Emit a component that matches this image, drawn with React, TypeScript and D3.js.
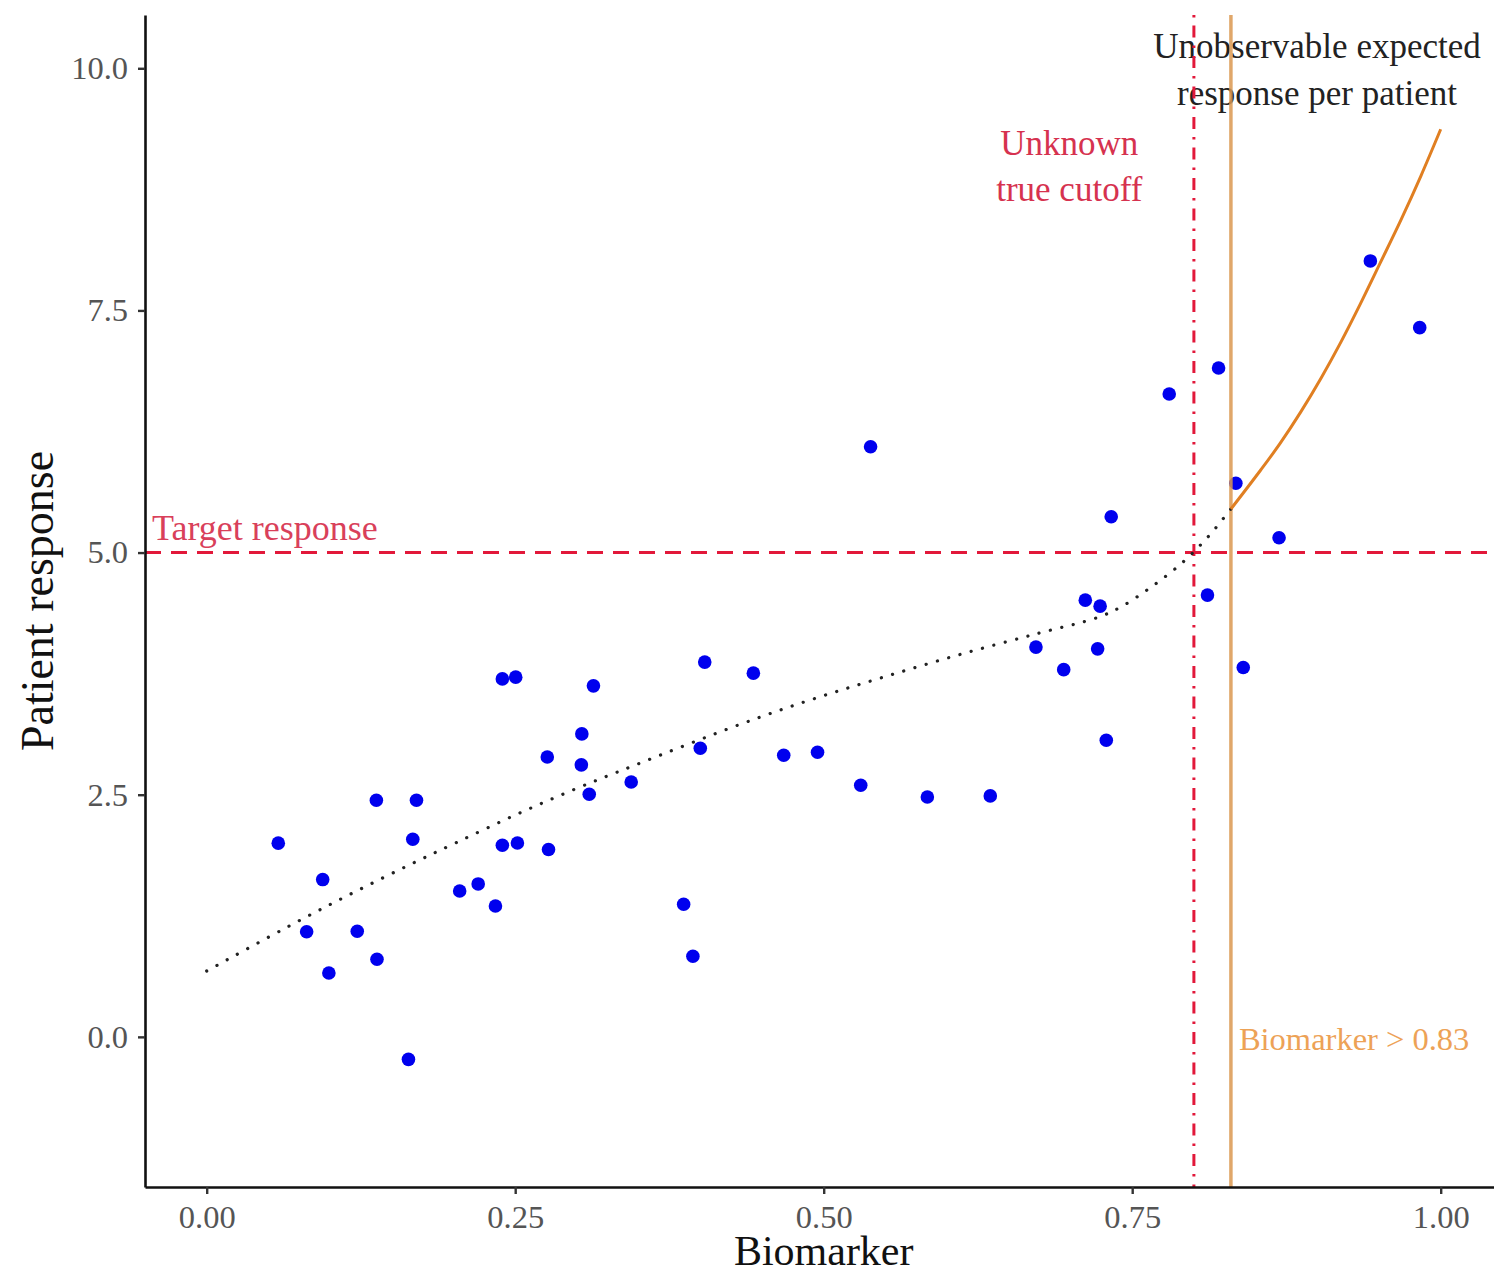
import React, { useEffect, useRef } from 'react';
import * as d3 from 'd3';

// Observed patients (biomarker, response)
const biomarker = [
  0.058, 0.081, 0.094, 0.099, 0.122, 0.1375, 0.138, 0.1635, 0.167, 0.170,
  0.205, 0.220, 0.234, 0.2396, 0.2396, 0.2504, 0.2518, 0.276, 0.277, 0.304,
  0.3036, 0.310, 0.3134, 0.344, 0.3865, 0.394, 0.400, 0.4036, 0.443, 0.4676,
  0.495, 0.530, 0.538, 0.584, 0.635, 0.672, 0.6945, 0.712, 0.722, 0.724,
  0.729, 0.733, 0.780, 0.811, 0.820, 0.834, 0.840, 0.869, 0.943, 0.983,
];
const response = [
  2.0, 1.085, 1.624, 0.659, 1.09, 2.443, 0.801, -0.232, 2.04, 2.443,
  1.506, 1.579, 1.351, 1.978, 3.696, 3.714, 2.002, 2.89, 1.934, 3.128,
  2.808, 2.505, 3.624, 2.632, 1.369, 0.832, 2.98, 3.869, 3.755, 2.908,
  2.939, 2.598, 6.093, 2.477, 2.488, 4.024, 3.791, 4.509, 4.006, 4.447,
  3.063, 5.37, 6.637, 4.561, 6.906, 5.715, 3.814, 5.153, 8.011, 7.322,
];

// Expected response below the chosen cutoff (dotted)
const trendX = [0, 0.0735, 0.119, 0.165, 0.203, 0.25, 0.297, 0.346, 0.433, 0.492, 0.55, 0.611, 0.672, 0.722, 0.741, 0.766, 0.791, 0.812, 0.83];
const trendY = [0.68, 1.19, 1.49, 1.78, 2.01, 2.29, 2.55, 2.8, 3.23, 3.49, 3.72, 3.95, 4.16, 4.33, 4.44, 4.65, 4.9, 5.17, 5.45];

// Expected response above the chosen cutoff (orange)
const upperX = [0.83, 0.854, 0.87, 0.8865, 0.903, 0.919, 0.935, 0.951, 0.968, 0.984, 1.0];
const upperY = [5.45, 5.85, 6.13, 6.45, 6.8, 7.17, 7.57, 7.99, 8.44, 8.89, 9.37];

const xTicks = [0, 0.25, 0.5, 0.75, 1];
const yTicks = [0, 2.5, 5, 7.5, 10];

const targetResponse = 5;
const trueCutoff = 0.8;
const chosenCutoff = 0.83;

const FONT = '"Liberation Serif", "DejaVu Serif", serif';

export default function App() {
  const ref = useRef<SVGSVGElement>(null);

  useEffect(() => {
    const width = 1494;
    const height = 1274;
    const left = 145;
    const top = 15;
    const bottom = 1187;

    const x = d3.scaleLinear().domain([-0.05, 1.05]).range([left, left + 1.1 * 1234]);
    const y = d3.scaleLinear().domain([-1.55, 10.55]).range([bottom, top]);

    const svg = d3.select(ref.current);
    svg.selectAll('*').remove();
    svg.attr('width', width).attr('height', height);

    svg.append('rect').attr('width', width).attr('height', height).attr('fill', '#fff');

    svg
      .append('defs')
      .append('clipPath')
      .attr('id', 'panel')
      .append('rect')
      .attr('x', left)
      .attr('y', top)
      .attr('width', x.range()[1] - left)
      .attr('height', bottom - top);

    const panel = svg.append('g').attr('clip-path', 'url(#panel)');

    // Annotations
    const red = '#e2183a';
    panel
      .append('text')
      .attr('x', 152)
      .attr('y', 540)
      .attr('fill', '#d9405a')
      .style('font-family', FONT)
      .style('font-size', '36px')
      .text('Target response');

    const cutLab = panel
      .append('text')
      .attr('text-anchor', 'middle')
      .attr('fill', '#d6324f')
      .style('font-family', FONT)
      .style('font-size', '35px');
    cutLab.append('tspan').attr('x', x(0.699)).attr('y', 155).text('Unknown');
    cutLab.append('tspan').attr('x', x(0.699)).attr('y', 201).text('true cutoff');

    const unobs = panel
      .append('text')
      .attr('text-anchor', 'middle')
      .attr('fill', '#222')
      .style('font-family', FONT)
      .style('font-size', '35px');
    unobs.append('tspan').attr('x', 1317).attr('y', 58).text('Unobservable expected');
    unobs.append('tspan').attr('x', 1317).attr('y', 105).text('response per patient');

    panel
      .append('text')
      .attr('x', x(chosenCutoff) + 8)
      .attr('y', 1050)
      .attr('fill', '#eda256')
      .style('font-family', FONT)
      .style('font-size', '32.5px')
      .text('Biomarker > 0.83');

    // Points
    panel
      .append('g')
      .selectAll('circle')
      .data(biomarker)
      .enter()
      .append('circle')
      .attr('cx', d => x(d))
      .attr('cy', (d, i) => y(response[i]))
      .attr('r', 6.8)
      .attr('fill', '#0000ee');

    // Reference lines
    panel
      .append('line')
      .attr('x1', left)
      .attr('x2', x.range()[1])
      .attr('y1', y(targetResponse))
      .attr('y2', y(targetResponse))
      .attr('stroke', red)
      .attr('stroke-width', 3)
      .attr('stroke-dasharray', '16 10');

    panel
      .append('line')
      .attr('x1', x(trueCutoff))
      .attr('x2', x(trueCutoff))
      .attr('y1', top)
      .attr('y2', bottom)
      .attr('stroke', red)
      .attr('stroke-width', 3)
      .attr('stroke-dasharray', '2.5 8 12 8');

    panel
      .append('line')
      .attr('x1', x(chosenCutoff))
      .attr('x2', x(chosenCutoff))
      .attr('y1', top)
      .attr('y2', bottom)
      .attr('stroke', '#da9850')
      .attr('stroke-opacity', 0.85)
      .attr('stroke-width', 3.5);

    // Expected response curves
    const line = d3
      .line<number>()
      .x(d => x(d))
      .curve(d3.curveCatmullRom);

    panel
      .append('path')
      .attr('d', line.y((d, i) => y(trendY[i]))(trendX))
      .attr('fill', 'none')
      .attr('stroke', '#222')
      .attr('stroke-width', 3.2)
      .attr('stroke-linecap', 'round')
      .attr('stroke-dasharray', '0.1 11.6');

    panel
      .append('path')
      .attr('d', line.y((d, i) => y(upperY[i]))(upperX))
      .attr('fill', 'none')
      .attr('stroke', '#e07f22')
      .attr('stroke-width', 3);

    // Axes
    const xAxis = d3
      .axisBottom(x)
      .tickValues(xTicks)
      .tickFormat(d3.format('.2f'))
      .tickSizeInner(7)
      .tickSizeOuter(0)
      .tickPadding(11);

    const xAxisDraw = svg
      .append('g')
      .attr('transform', `translate(0,${bottom})`)
      .call(xAxis);

    const yAxis = d3
      .axisLeft(y)
      .tickValues(yTicks)
      .tickFormat(d3.format('.1f'))
      .tickSizeInner(7)
      .tickSizeOuter(0)
      .tickPadding(10);

    const yAxisDraw = svg
      .append('g')
      .attr('transform', `translate(${left},0)`)
      .call(yAxis);

    [xAxisDraw, yAxisDraw].forEach(g => {
      g.select('.domain').attr('stroke', '#111').attr('stroke-width', 2.6);
      g.selectAll('.tick line').attr('stroke', '#333').attr('stroke-width', 2.4);
      g.selectAll('.tick text')
        .attr('fill', '#555')
        .style('font-family', FONT)
        .style('font-size', '32.5px');
    });

    // Axis titles
    svg
      .append('text')
      .attr('x', x(0.5))
      .attr('y', 1265)
      .attr('text-anchor', 'middle')
      .attr('fill', '#111')
      .style('font-family', FONT)
      .style('font-size', '42px')
      .text('Biomarker');

    svg
      .append('text')
      .attr('transform', `translate(53,${(top + bottom) / 2}) rotate(-90)`)
      .attr('text-anchor', 'middle')
      .attr('fill', '#111')
      .style('font-family', FONT)
      .style('font-size', '46px')
      .text('Patient response');
  }, []);

  return (
    <svg ref={ref} style={{ position: 'absolute', left: 0, top: 0, display: 'block' }} />
  );
}
